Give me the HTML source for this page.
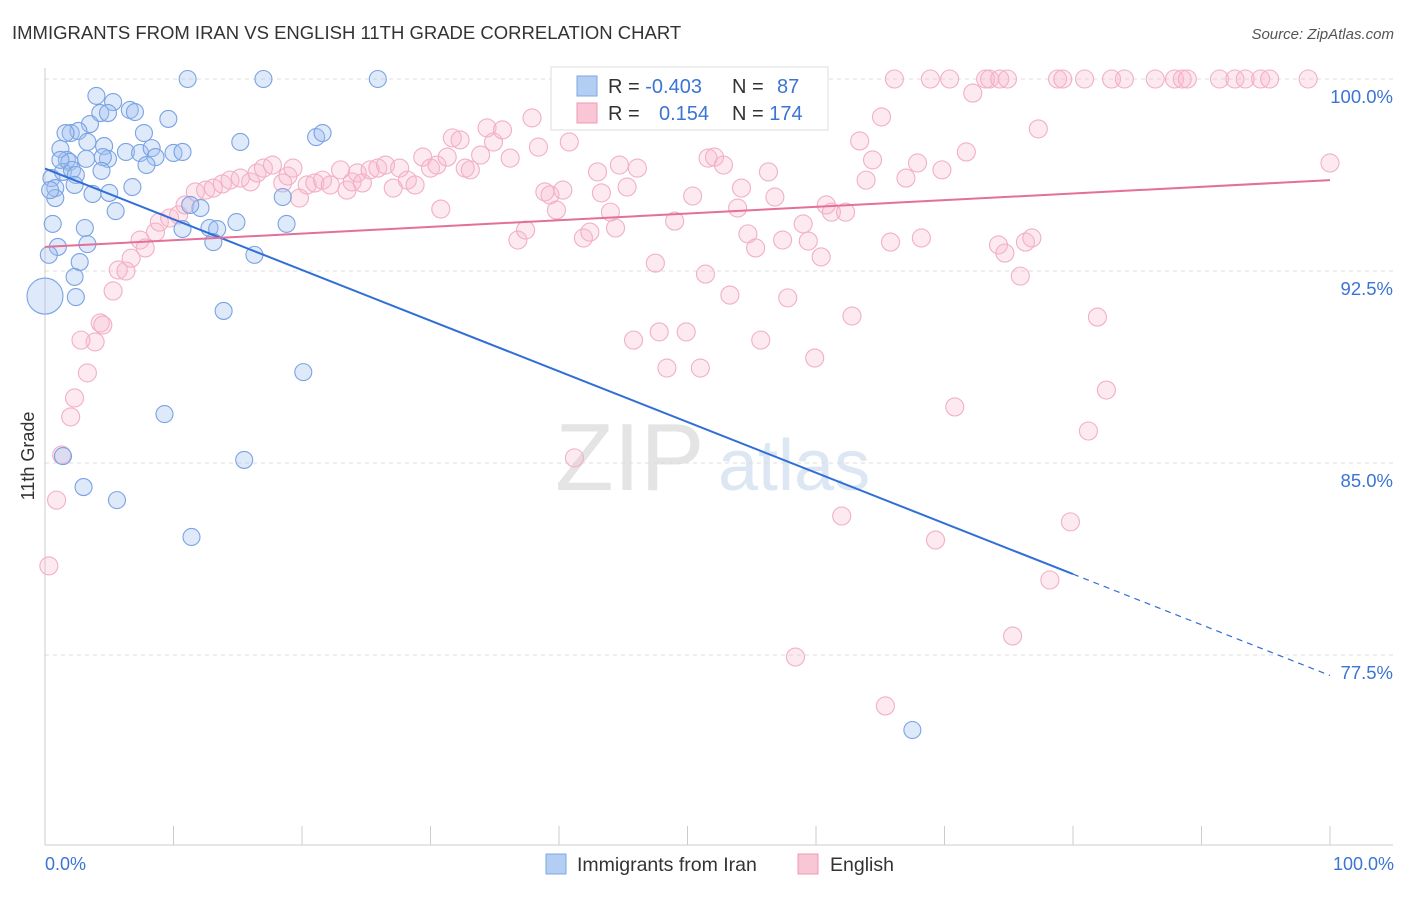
<!DOCTYPE html>
<html><head><meta charset="utf-8">
<style>
body{margin:0;background:#fff;font-family:"Liberation Sans",sans-serif;}
svg text{font-family:"Liberation Sans",sans-serif;}
</style></head>
<body>
<svg id="chart" width="1406" height="892" xmlns="http://www.w3.org/2000/svg">
<text x="12" y="39" font-size="18.5" fill="#333">IMMIGRANTS FROM IRAN VS ENGLISH 11TH GRADE CORRELATION CHART</text>
<text x="1394" y="39" font-size="15" fill="#555" font-style="italic" text-anchor="end">Source: ZipAtlas.com</text>
<text x="555" y="490" font-size="96" fill="#e4e4e4" font-family="Liberation Serif">ZIP</text>
<text x="718" y="490" font-size="72" fill="#dde6f3">atlas</text>
<g id="grid"></g>
<g id="axes"></g>
<g id="pink"></g>
<g id="blue"></g>
<g id="lines"></g>
<text x="34" y="456" font-size="18" fill="#333" transform="rotate(-90 34 456)" text-anchor="middle">11th Grade</text>
<text x="45" y="870" font-size="18" fill="#3b74d4">0.0%</text>
<text x="1394" y="870" font-size="18" fill="#3b74d4" text-anchor="end">100.0%</text>
<g>
<rect x="551" y="67" width="277" height="63" fill="#fff" stroke="#ddd"/>
<rect x="577" y="76" width="20" height="20" fill="#b3cdf3" stroke="#7ea6e6"/>
<rect x="577" y="103" width="20" height="20" fill="#f9c6d5" stroke="#ef9ab4"/>
<text x="608" y="93" font-size="20" fill="#333">R = <tspan fill="#3b74d4">-0.403</tspan></text>
<text x="732" y="93" font-size="20" fill="#333">N = <tspan fill="#3b74d4" x="777">87</tspan></text>
<text x="608" y="120" font-size="20" fill="#333">R = <tspan fill="#3b74d4" x="659">0.154</tspan></text>
<text x="732" y="120" font-size="20" fill="#333">N = <tspan fill="#3b74d4">174</tspan></text>
</g>
<g>
<rect x="546" y="854" width="20" height="20" fill="#b3cdf3" stroke="#7ea6e6"/>
<text x="577" y="871" font-size="19.5" fill="#333">Immigrants from Iran</text>
<rect x="798" y="854" width="20" height="20" fill="#f9c6d5" stroke="#ef9ab4"/>
<text x="830" y="871" font-size="19.5" fill="#333">English</text>
</g>
</svg>
<script>
const yTicks=[100,92.5,85,77.5];
const yTickLabels=["100.0%","92.5%","85.0%","77.5%"];
const blueX=[11.1,17.0,25.9,4.0,5.3,4.3,4.9,6.6,7.0,9.6,3.5,2.0,2.6,7.7,1.2,3.3,4.6,6.3,7.4,8.3,8.6,10.0,10.7,15.2,21.1,21.6,1.7,1.9,3.2,4.9,4.5,7.9,0.5,1.4,2.1,2.4,4.4,2.3,0.8,6.8,3.7,5.0,18.5,0.8,12.1,11.3,5.5,0.6,12.8,13.4,14.9,18.8,3.1,10.7,13.1,1.0,3.3,0.3,2.7,16.3,2.3,0.0,2.4,13.9,20.1,9.3,1.4,15.5,3.0,5.6,11.4,67.5,1.6,1.2,0.4];
const blueY=[100,100,100,99.34,99.1,98.67,98.67,98.79,98.71,98.44,98.24,97.89,97.97,97.89,97.27,97.54,97.38,97.15,97.11,97.3,96.95,97.11,97.15,97.54,97.73,97.89,96.84,96.76,96.88,96.88,96.95,96.64,96.13,96.37,96.45,96.25,96.41,95.86,95.74,95.78,95.51,95.55,95.39,95.35,94.96,95.08,94.84,94.34,94.18,94.14,94.41,94.34,94.18,94.14,93.63,93.44,93.55,93.13,92.85,93.13,92.27,91.52,91.48,90.94,88.55,86.91,85.27,85.12,84.06,83.55,82.11,74.57,97.89,96.84,95.66];
const pinkX=[66.1,68.9,70.4,73.2,73.5,74.3,74.9,78.8,79.2,80.9,83.0,84.0,86.4,87.9,88.5,88.9,91.4,92.6,93.4,94.6,95.3,98.3,59.1,72.2,65.1,77.3,63.4,71.7,100,67.9,69.8,64.4,63.9,0.3,0.9,1.3,2.0,2.3,3.3,3.9,2.8,4.3,4.5,5.3,5.7,6.3,6.7,7.4,7.8,8.6,8.9,9.7,10.4,10.9,11.7,12.5,13.1,13.8,14.4,15.2,16.0,16.5,17.0,17.7,18.5,18.9,19.3,19.8,20.4,21.0,21.6,22.2,23.0,23.5,23.9,24.3,24.7,25.3,25.9,26.5,27.1,27.6,28.2,28.8,29.4,30.0,30.5,30.8,31.3,31.7,32.3,32.7,33.1,33.9,34.4,34.9,35.6,36.2,36.8,37.4,37.9,38.4,38.9,39.3,39.8,40.3,40.8,41.2,41.9,42.4,43.0,43.3,44.0,44.4,44.7,45.3,45.8,46.1,46.7,47.5,47.8,48.4,49.0,49.9,51.0,51.4,50.4,51.6,52.1,52.8,53.3,53.9,54.2,54.7,55.3,55.7,56.3,56.8,57.4,57.8,58.4,59.0,59.4,59.9,60.4,60.8,61.2,62.0,62.3,62.8,65.4,65.8,67.0,68.2,69.3,70.8,74.2,74.7,75.3,75.9,76.3,76.8,78.2,79.8,81.2,81.9,82.6];
const pinkY=[100,100,100,100,100,100,100,100,100,100,100,100,100,100,100,100,100,100,100,100,100,100,99.45,99.45,98.52,98.05,97.58,97.15,96.72,96.72,96.45,96.84,96.05,80.98,83.55,85.31,86.8,87.54,88.52,89.73,89.8,90.47,90.39,91.72,92.54,92.5,93.0,93.71,93.4,94.02,94.41,94.57,94.69,95.08,95.59,95.66,95.74,95.9,96.05,96.13,95.98,96.33,96.52,96.64,95.94,96.21,96.52,95.35,95.86,95.94,96.05,95.86,96.45,95.66,95.98,96.33,95.94,96.45,96.52,96.64,95.74,96.52,96.05,95.86,96.95,96.52,96.64,94.92,96.95,97.7,97.62,96.52,96.45,97.03,98.09,97.54,98.01,96.91,93.71,94.1,98.48,97.34,95.59,95.47,94.88,95.66,97.54,85.2,93.79,94.02,96.37,95.55,94.8,94.18,96.64,95.78,89.8,96.52,98.67,92.81,90.12,88.71,94.45,90.12,88.71,92.38,95.43,96.91,96.95,96.64,91.56,94.96,95.74,93.95,93.4,89.8,96.37,95.39,93.71,91.45,77.42,94.34,93.67,89.1,93.05,95.08,94.8,82.93,94.8,90.74,75.51,93.63,96.13,93.79,81.99,87.19,93.52,93.2,78.24,92.3,93.63,93.79,80.43,82.7,86.25,90.7,87.85];
const blueTrend=[96.5,80.66];
const pinkTrend=[93.44,96.05];

const NS="http://www.w3.org/2000/svg";
const X=v=>45+v*12.85;
const Y=v=>79+(100-v)*25.6;
function mk(tag,attrs,parent){const e=document.createElementNS(NS,tag);for(const k in attrs)e.setAttribute(k,attrs[k]);parent.appendChild(e);return e;}
const grid=document.getElementById('grid'),axes=document.getElementById('axes');
yTicks.forEach((t,i)=>{
  const l=mk('line',{x1:45,x2:1393,y1:Y(t),y2:Y(t),stroke:'#ddd','stroke-dasharray':'4,4'},grid);
  
  
  const tx=mk('text',{x:1393,y:Y(t)+24,'font-size':18.5,fill:'#3b74d4','text-anchor':'end'},axes);
  tx.textContent=yTickLabels[i];
  
  
});
const ax=mk('line',{x1:45,x2:1393,y1:845,y2:845,stroke:'#ccc'},axes);


const ay=mk('line',{x1:45,x2:45,y1:68,y2:845,stroke:'#ccc'},axes);


for(let i=0;i<=10;i++){
  const t=mk('line',{x1:X(i*10),x2:X(i*10),y1:826,y2:845,stroke:'#ccc'},axes);
  
  
}
const pg=document.getElementById('pink');
pinkX.forEach((x,i)=>{
  const c=mk('circle',{cx:X(x),cy:Y(pinkY[i]),r:9,fill:'rgba(248,185,205,0.3)',stroke:'#f2afc4','stroke-width':1.1},pg);
  
  
});
const bg=document.getElementById('blue');
blueX.forEach((x,i)=>{
  const r=(i===61)?18:8.5;
  const c=mk('circle',{cx:X(x),cy:Y(blueY[i]),r:r,fill:'rgba(160,192,240,0.35)',stroke:'#7aa3e3','stroke-width':1.1},bg);
  
  
});
const lg=document.getElementById('lines');
const slope=(blueTrend[1]-blueTrend[0])/80;
const b1=mk('line',{x1:X(0),y1:Y(blueTrend[0]),x2:X(80),y2:Y(blueTrend[1]),stroke:'#2f6fd6','stroke-width':2},lg);


const b2=mk('line',{x1:X(80),y1:Y(blueTrend[1]),x2:X(100),y2:Y(blueTrend[0]+slope*100),stroke:'#2f6fd6','stroke-width':1.2,'stroke-dasharray':'6,5'},lg);


const p1=mk('line',{x1:X(0),y1:Y(pinkTrend[0]),x2:X(100),y2:Y(pinkTrend[1]),stroke:'#e46f98','stroke-width':2},lg);


</script>
</body></html>
